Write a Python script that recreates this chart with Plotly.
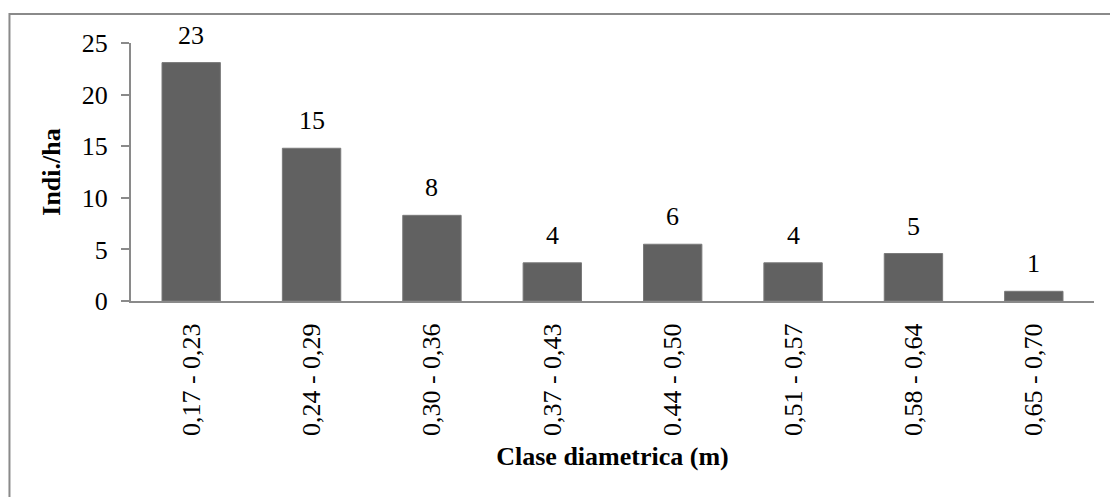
import plotly.graph_objects as go

# Diameter classes (m) and stem density per hectare
clases = ["0,17 - 0,23", "0,24 - 0,29", "0,30 - 0,36", "0,37 - 0,43",
          "0.44 - 0,50", "0,51 - 0,57", "0,58 - 0,64", "0,65 - 0,70"]
indi_ha = [23.1, 14.8, 8.3, 3.7, 5.5, 3.7, 4.6, 0.94]
y_ticks = [0, 5, 10, 15, 20, 25]

FONT = "Liberation Serif, Times New Roman, serif"
BAR = "#616161"
AXIS = "#8a8a8a"

fig = go.Figure()
fig.add_trace(go.Bar(
    x=clases, y=indi_ha,
    marker=dict(color=BAR, line=dict(color="#7a7a7a", width=1)),
    hoverinfo="x+y",
))

# value labels above each bar, rounded to whole individuals
for c, v in zip(clases, indi_ha):
    fig.add_annotation(x=c, y=v, text=f"{v:.0f}", showarrow=False,
                       yanchor="bottom", yshift=11,
                       font=dict(family=FONT, size=26, color="black"))

# outer chart frame
fig.add_shape(type="rect", xref="paper", yref="paper",
              x0=-0.1262, y0=-0.78, x1=1.03, y1=1.1124,
              line=dict(color=AXIS, width=2), fillcolor="rgba(0,0,0,0)")

fig.update_layout(
    width=1110, height=497,
    margin=dict(l=131, r=16, t=43, b=196),
    paper_bgcolor="white", plot_bgcolor="white",
    bargap=0.515, showlegend=False,
    font=dict(family=FONT, size=26, color="black"),
    xaxis=dict(
        type="category", range=[-0.5, len(clases) - 0.5],
        showline=True, linecolor=AXIS, linewidth=2,
        ticks="", tickangle=-90, ticklabelstandoff=10,
        tickfont=dict(family=FONT, size=26, color="black"),
        title=dict(text="<b>Clase diametrica (m)</b>", standoff=12,
                   font=dict(family=FONT, size=26, color="black")),
        showgrid=False, zeroline=False,
    ),
    yaxis=dict(
        range=[0, 25], tickvals=y_ticks,
        showline=True, linecolor=AXIS, linewidth=2,
        ticks="outside", ticklen=8, tickcolor=AXIS, tickwidth=2,
        ticklabelstandoff=8,
        tickfont=dict(family=FONT, size=26, color="black"),
        title=dict(text="<b>Indi./ha</b>", standoff=14,
                   font=dict(family=FONT, size=26, color="black")),
        showgrid=False, zeroline=False,
    ),
)

fig.write_html("out.html")
